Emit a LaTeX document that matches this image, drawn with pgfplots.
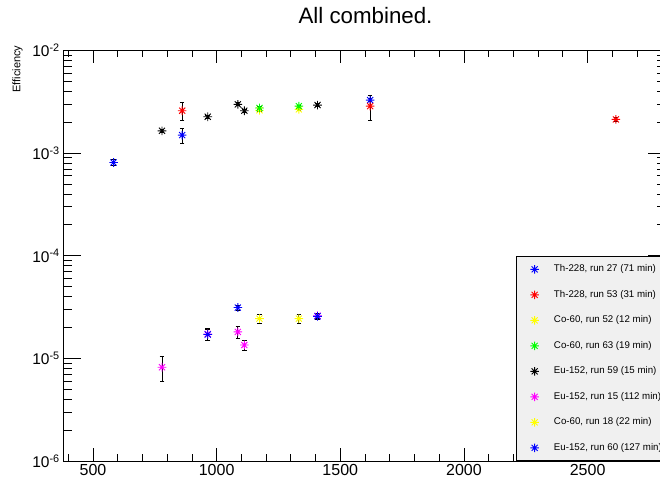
\documentclass[border=0pt]{standalone}
\usepackage{fontspec}
\setmainfont{Liberation Sans}
\usepackage{pgfplots}
\pgfplotsset{compat=1.18}
\definecolor{rblue}{RGB}{0,0,255}
\definecolor{rred}{RGB}{255,0,0}
\definecolor{ryellow}{RGB}{255,255,0}
\definecolor{rgreen}{RGB}{0,255,0}
\definecolor{rmagenta}{RGB}{255,0,255}
\definecolor{legfill}{RGB}{240,240,240}
\pgfdeclareplotmark{rootstar}{%
  \pgfpathmoveto{\pgfqpoint{-\pgfplotmarksize}{0pt}}%
  \pgfpathlineto{\pgfqpoint{\pgfplotmarksize}{0pt}}%
  \pgfpathmoveto{\pgfqpoint{0pt}{-\pgfplotmarksize}}%
  \pgfpathlineto{\pgfqpoint{0pt}{\pgfplotmarksize}}%
  \pgfpathmoveto{\pgfqpoint{-0.707\pgfplotmarksize}{-0.707\pgfplotmarksize}}%
  \pgfpathlineto{\pgfqpoint{0.707\pgfplotmarksize}{0.707\pgfplotmarksize}}%
  \pgfpathmoveto{\pgfqpoint{-0.707\pgfplotmarksize}{0.707\pgfplotmarksize}}%
  \pgfpathlineto{\pgfqpoint{0.707\pgfplotmarksize}{-0.707\pgfplotmarksize}}%
  \pgfusepathqstroke}
\begin{document}
\begin{tikzpicture}
\begin{axis}[
  at={(63.3pt,24pt)}, anchor=south west,
  scale only axis, width=602.7pt, height=410.5pt,
  xmin=380, xmax=2817, ymode=log, ymin=1e-6, ymax=1e-2,
  axis line style={line width=0.8pt},
  xtick={500,1000,1500,2000,2500},
  xticklabels={500,1000,1500,2000,2500},
  minor xtick={400,600,700,800,900,1100,1200,1300,1400,1600,1700,1800,1900,2100,2200,2300,2400,2600,2700,2800},
  ytick={1e-6,1e-5,1e-4,1e-3,1e-2},
  yticklabels={10\textsuperscript{-6},10\textsuperscript{-5},10\textsuperscript{-4},10\textsuperscript{-3},10\textsuperscript{-2}},
  minor ytick={2e-6,3e-6,4e-6,5e-6,6e-6,7e-6,8e-6,9e-6,
               2e-5,3e-5,4e-5,5e-5,6e-5,7e-5,8e-5,9e-5,
               2e-4,3e-4,4e-4,5e-4,6e-4,7e-4,8e-4,9e-4,
               2e-3,3e-3,4e-3,5e-3,6e-3,7e-3,8e-3,9e-3},
  tick align=inside,
  xtick style={black, line width=0.8pt, /pgfplots/major tick length=13pt, /pgfplots/minor tick length=7pt},
  ytick style={black, line width=0.8pt, /pgfplots/major tick length=18pt, /pgfplots/minor tick length=9pt},
  yticklabel pos=left, xticklabel pos=bottom,
  xticklabel style={font=\fontsize{16}{19}\selectfont},
  yticklabel style={font=\fontsize{15.5}{18}\selectfont},
  legend cell align=left,
  legend style={at={(0.7511,0)}, anchor=south west, draw=black, line width=0.8pt,
    fill=legfill, font=\fontsize{9.7}{11}\selectfont,
    inner xsep=14pt, inner ysep=8pt, row sep=16pt, column sep=15pt,
    nodes={inner sep=0pt, text height=7pt, text depth=2.5pt}},
  legend image code/.code={\draw[mark repeat=2,mark phase=2,#1] plot coordinates {(0pt,0pt) (10pt,0pt) (20pt,0pt)};},
  every axis plot/.append style={only marks, mark=rootstar, mark size=4.3pt, line width=0.9pt,
    error bars/y dir=both, error bars/y explicit,
    error bars/error bar style={black, line width=0.8pt},
    error bars/error mark options={rotate=90, mark size=2.3pt, black, line width=0.8pt}},
]
% Th-228, run 27
\addplot[rblue] coordinates {
  (583.2, 8.1e-4) +- (0, 0.5e-4)
  (860.6, 1.5e-3) +- (0, 0.25e-3)
  (1620.7, 3.29e-3) +- (0, 0.1e-3)
};
\addlegendentry{Th-228, run 27 (71 min)}
% Th-228, run 53
\addplot[rred] coordinates {
  (860.6, 2.59e-3) +- (0, 0.5e-3)
  (1620.7, 2.87e-3) +- (0, 0.8e-3)
  (2614.5, 2.13e-3) +- (0, 0.08e-3)
};
\addlegendentry{Th-228, run 53 (31 min)}
% Co-60, run 52
\addplot[ryellow] coordinates {
  (1173.2, 2.62e-3) +- (0, 0.08e-3)
  (1332.5, 2.67e-3) +- (0, 0.08e-3)
};
\addlegendentry{Co-60, run 52 (12 min)}
% Co-60, run 63
\addplot[rgreen] coordinates {
  (1173.2, 2.75e-3) +- (0, 0.08e-3)
  (1332.5, 2.87e-3) +- (0, 0.08e-3)
};
\addlegendentry{Co-60, run 63 (19 min)}
% Eu-152, run 59
\addplot[black] coordinates {
  (778.9, 1.65e-3) +- (0, 0.06e-3)
  (964.1, 2.26e-3) +- (0, 0.07e-3)
  (1085.8, 2.99e-3) +- (0, 0.1e-3)
  (1112.1, 2.59e-3) +- (0, 0.1e-3)
  (1408.0, 2.94e-3) +- (0, 0.08e-3)
};
\addlegendentry{Eu-152, run 59 (15 min)}
% Eu-152, run 15
\addplot[rmagenta] coordinates {
  (778.9, 8.2e-6) +- (0, 2.2e-6)
  (964.1, 1.73e-5) +- (0, 2.4e-6)
  (1085.8, 1.81e-5) +- (0, 2.3e-6)
  (1112.1, 1.35e-5) +- (0, 1.6e-6)
  (1408.0, 2.6e-5) +- (0, 1.5e-6)
};
\addlegendentry{Eu-152, run 15 (112 min)}
% Co-60, run 18
\addplot[ryellow] coordinates {
  (1173.2, 2.44e-5) +- (0, 2.5e-6)
  (1332.5, 2.44e-5) +- (0, 2.5e-6)
};
\addlegendentry{Co-60, run 18 (22 min)}
% Eu-152, run 60
\addplot[rblue] coordinates {
  (964.1, 1.71e-5) +- (0, 2.0e-6)
  (1085.8, 3.13e-5) +- (0, 1.8e-6)
  (1408.0, 2.57e-5) +- (0, 1.5e-6)
};
\addlegendentry{Eu-152, run 60 (127 min)}
\end{axis}
\node[anchor=base, font=\fontsize{22.3}{26}\selectfont] at (365.5pt,461.7pt) {All combined.};
\node[rotate=90, anchor=east, font=\fontsize{11}{13}\selectfont] at (17.5pt,443pt) {Efficiency};
\pgfresetboundingbox
\path[use as bounding box] (0pt,0pt) rectangle (660pt,485pt);
\end{tikzpicture}
\end{document}
